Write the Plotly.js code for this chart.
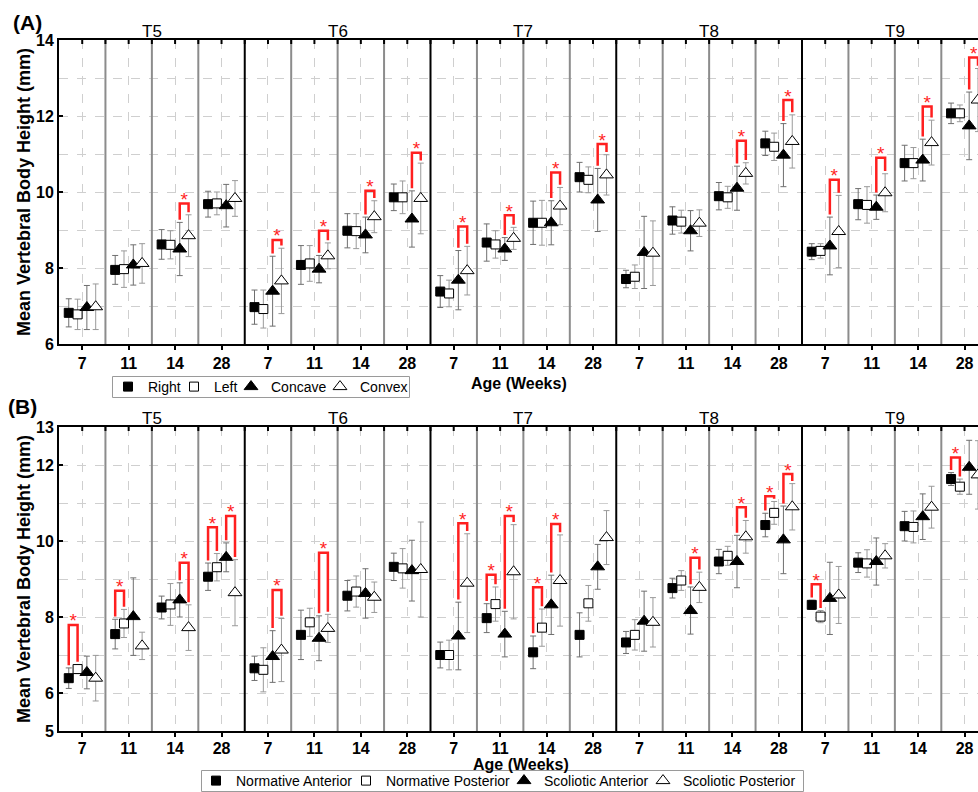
<!DOCTYPE html>
<html><head><meta charset="utf-8">
<script src="https://cdn.plot.ly/plotly-3.0.1.min.js"></script>
<style>html,body{margin:0;padding:0;background:#fff;overflow:hidden}</style>
</head><body><div id="chart" style="width:978px;height:792px"></div>
<script>
const groups = ['T5','T6','T7','T8','T9'];
const ages = ['7','11','14','28'];

// Panel A: values (mm) and SD, ordered T5(7,11,14,28), T6(...), ... T9(...)
const aRight    = [6.82,7.95,8.62,9.68, 6.97,8.08,8.98,9.86, 7.38,8.67,9.19,10.39, 7.71,9.25,9.89,11.28, 8.43,9.68,10.76,12.07];
const aRightErr = [0.37,0.38,0.39,0.34, 0.45,0.51,0.45,0.35, 0.42,0.49,0.57,0.39, 0.23,0.36,0.36,0.32, 0.21,0.41,0.47,0.27];
const aLeft     = [6.78,7.97,8.61,9.70, 6.92,8.12,8.97,9.86, 7.33,8.62,9.19,10.32, 7.77,9.22,9.86,11.19, 8.45,9.66,10.76,12.07];
const aLeftErr  = [0.40,0.48,0.37,0.30, 0.50,0.47,0.46,0.43, 0.35,0.36,0.59,0.34, 0.31,0.30,0.29,0.36, 0.19,0.48,0.41,0.22];
const aConcave    = [6.96,8.08,8.50,9.64, 7.39,7.97,8.87,9.29, 7.68,8.50,9.19,9.79, 8.41,8.98,10.10,10.97, 8.58,9.60,10.84,11.74];
const aConcaveErr = [0.58,0.53,0.70,0.56, 0.92,0.36,0.47,0.74, 0.78,0.30,0.58,0.83, 0.95,0.53,0.58,0.83, 0.76,0.32,0.55,0.89];
const aConvex     = [6.98,8.12,8.85,9.83, 7.66,8.32,9.35,9.83, 7.93,8.78,9.63,10.45, 8.39,9.18,10.49,11.33, 8.96,9.98,11.30,12.42];
const aConvexErr  = [0.60,0.52,0.55,0.47, 0.86,0.34,0.42,0.93, 0.64,0.29,0.49,0.53, 0.85,0.35,0.28,0.70, 0.95,0.50,0.59,0.83];
// Panel A significance brackets (Concave vs Convex): cell index, bracket top
const aSigCell = [2, 4, 5, 6, 7, 8, 9, 10, 11, 14, 15, 16, 17, 18, 19];
const aSigTop  = [9.70, 8.74, 8.98, 10.03, 11.03, 9.09, 9.39, 10.51, 11.26, 11.35, 12.42, 10.32, 10.90, 12.25, 13.54];

// Panel B
const bNA     = [6.39,7.55,8.25,9.06, 6.65,7.53,8.56,9.32, 7.00,7.97,7.07,7.53, 7.33,8.76,9.46,10.42, 8.32,9.43,10.39,11.63];
const bNAErr  = [0.27,0.39,0.30,0.36, 0.32,0.65,0.40,0.36, 0.34,0.38,0.43,0.58, 0.29,0.26,0.32,0.31, 0.12,0.26,0.39,0.17];
const bNP     = [6.63,7.83,8.33,9.31, 6.61,7.86,8.67,9.28, 7.00,8.34,7.72,8.36, 7.53,8.96,9.61,10.74, 8.01,9.41,10.37,11.43];
const bNPErr  = [0.12,0.37,0.55,0.36, 0.58,0.37,0.41,0.52, 0.39,0.45,0.49,0.47, 0.40,0.26,0.25,0.30, 0.16,0.36,0.42,0.20];
const bSA     = [6.54,8.01,8.45,9.57, 6.96,7.44,8.62,9.22, 7.50,7.55,8.32,9.32, 7.89,8.17,9.46,10.03, 8.49,9.46,10.64,11.94];
const bSAErr  = [0.43,1.02,0.45,0.38, 0.68,0.59,0.65,0.80, 0.89,0.60,0.78,0.59, 0.79,0.62,0.69,0.89, 0.95,0.62,0.60,0.71];
const bSP     = [6.39,7.24,7.72,8.64, 7.13,7.70,8.52,9.25, 8.89,9.19,8.96,10.09, 7.86,8.78,10.11,10.90, 8.58,9.61,10.89,11.74];
const bSPErr  = [0.60,0.36,0.60,0.87, 0.83,0.37,0.40,1.25, 1.30,1.24,1.20,0.71, 0.65,0.40,0.43,0.61, 0.75,0.32,0.55,0.90];
// Panel B brackets: cell index, pair (0 = Normative Ant/Post, 1 = Scoliotic Ant/Post), bracket top
const bSigCell = [0, 1, 2, 3, 3, 4, 5, 8, 9, 9, 10, 10, 13, 14, 15, 15, 16, 19];
const bSigPair = [0, 0, 1, 0, 1, 1, 1, 1, 0, 1, 0, 1, 1, 1, 0, 1, 0, 0];
const bSigTop  = [7.79, 8.69, 9.43, 10.36, 10.66, 8.71, 9.69, 10.47, 9.11, 10.66, 8.78, 10.45, 9.56, 10.89, 11.18, 11.76, 8.86, 12.20];

const FONT = 'Liberation Sans, Arial, Helvetica, sans-serif';
const offsets = [-0.29, -0.1, 0.1, 0.29];
const nCells = groups.length * ages.length;
const xRange = [0, 19.79];
const yRangeA = [6, 14], yRangeB = [5, 13];
const cellIdx = Array.from({length: nCells}, (_, i) => i);
const xs = s => cellIdx.map(i => i + 0.5 + offsets[s]);

const styles = [
  {symbol: 'square', size: 9, color: '#000', line: {color: '#000', width: 1}, err: '#6f6f6f'},
  {symbol: 'square', size: 9, color: '#fff', line: {color: '#000', width: 1}, err: '#9a9a9a'},
  {symbol: 'triangle-up', size: 12, color: '#000', line: {color: '#000', width: 1}, err: '#6f6f6f'},
  {symbol: 'triangle-up', size: 12, color: '#fff', line: {color: '#000', width: 1}, err: '#9a9a9a'}
];
// legend entry widths (px) to match the compact legend spacing of the original
const legendWidthsA = [21, 12, 44, 45];
const legendWidthsB = [105, 113, 94, 121];

function seriesTrace(name, vals, errs, s, xa, ya, legend, lw) {
  const st = styles[s];
  return {
    type: 'scatter', mode: 'markers', name: name, x: xs(s), y: vals,
    xaxis: xa, yaxis: ya, legend: legend, legendwidth: lw, cliponaxis: true,
    marker: {symbol: st.symbol, size: st.size, color: st.color, line: st.line},
    error_y: {type: 'data', array: errs, visible: true, color: st.err, thickness: 1, width: 3}
  };
}

function bracketTraces(cells, pairs, tops, seriesVals, seriesErrs, xa, ya) {
  const lx = [], ly = [], sx = [], sy = [];
  cells.forEach((c, k) => {
    const p = pairs[k];
    const sL = p * 2, sR = p * 2 + 1;
    const xL = c + 0.5 + offsets[sL], xR = c + 0.5 + offsets[sR];
    const legL = seriesVals[sL][c] + seriesErrs[sL][c] + 0.07;
    const legR = seriesVals[sR][c] + seriesErrs[sR][c] + 0.07;
    lx.push(xL, xL, xR, xR, null);
    ly.push(legL, tops[k], tops[k], legR, null);
    sx.push((xL + xR) / 2);
    sy.push(tops[k] + 0.06);
  });
  return [
    {type: 'scatter', mode: 'lines', x: lx, y: ly, xaxis: xa, yaxis: ya, showlegend: false,
     hoverinfo: 'skip', line: {color: '#ff1f1f', width: 2.5}, connectgaps: false},
    {type: 'scatter', mode: 'text', x: sx, y: sy, text: sx.map(() => '*'), xaxis: xa, yaxis: ya,
     showlegend: false, hoverinfo: 'skip', textposition: 'middle center', cliponaxis: false,
     textfont: {family: FONT, size: 19, color: '#ff1f1f'}}
  ];
}

const data = [
  seriesTrace('Right', aRight, aRightErr, 0, 'x', 'y', 'legend', legendWidthsA[0]),
  seriesTrace('Left', aLeft, aLeftErr, 1, 'x', 'y', 'legend', legendWidthsA[1]),
  seriesTrace('Concave', aConcave, aConcaveErr, 2, 'x', 'y', 'legend', legendWidthsA[2]),
  seriesTrace('Convex', aConvex, aConvexErr, 3, 'x', 'y', 'legend', legendWidthsA[3]),
  seriesTrace('Normative Anterior', bNA, bNAErr, 0, 'x2', 'y2', 'legend2', legendWidthsB[0]),
  seriesTrace('Normative Posterior', bNP, bNPErr, 1, 'x2', 'y2', 'legend2', legendWidthsB[1]),
  seriesTrace('Scoliotic Anterior', bSA, bSAErr, 2, 'x2', 'y2', 'legend2', legendWidthsB[2]),
  seriesTrace('Scoliotic Posterior', bSP, bSPErr, 3, 'x2', 'y2', 'legend2', legendWidthsB[3]),
  ...bracketTraces(aSigCell, aSigCell.map(() => 1), aSigTop,
      [aRight, aLeft, aConcave, aConvex], [aRightErr, aLeftErr, aConcaveErr, aConvexErr], 'x', 'y'),
  ...bracketTraces(bSigCell, bSigPair, bSigTop,
      [bNA, bNP, bSA, bSP], [bNAErr, bNPErr, bSAErr, bSPErr], 'x2', 'y2')
];

const centers = cellIdx.map(i => i + 0.5);
const ageText = cellIdx.map(i => ages[i % ages.length]);

const domX = [59 / 978, 1];
const domA = [1 - 344 / 792, 1 - 40 / 792];
const domB = [1 - 731 / 792, 1 - 427 / 792];

function bottomAxis(anchor, standoff) {
  return {
    domain: domX, range: xRange, anchor: anchor, fixedrange: true,
    tickmode: 'array', tickvals: centers, ticktext: ageText,
    ticks: 'outside', ticklen: 4, tickwidth: 2, tickcolor: '#000', ticklabelstandoff: standoff,
    tickfont: {family: FONT, size: 16, color: '#000', weight: 'bold'},
    showline: true, mirror: true, linecolor: '#000', linewidth: 2,
    showgrid: true, gridcolor: '#cfcfcf', griddash: 'dash', gridwidth: 1,
    zeroline: false, automargin: false
  };
}
function leftAxis(dom, range, tv, anchor) {
  return {
    domain: dom, range: range, anchor: anchor, fixedrange: true,
    tickmode: 'array', tickvals: tv, ticks: 'inside', ticklen: 4, tickwidth: 2, tickcolor: '#000',
    tickfont: {family: FONT, size: 16, color: '#000', weight: 'bold'},
    showline: true, linecolor: '#000', linewidth: 2,
    showgrid: true, gridcolor: '#cfcfcf', griddash: 'dash', gridwidth: 1,
    minor: {dtick: 1, showgrid: true, gridcolor: '#cfcfcf', griddash: 'dash', gridwidth: 1, ticks: ''},
    zeroline: false, automargin: false
  };
}

const shapes = [];
[['x', 'y', yRangeA, domA], ['x2', 'y2', yRangeB, domB]].forEach(([xa, ya, yr, dom]) => {
  const pxPerUnit = (dom[1] - dom[0]) * 792 / (yr[1] - yr[0]);
  for (let c = 1; c < nCells; c++) {
    const isGroup = c % ages.length === 0;
    shapes.push({type: 'line', xref: xa, yref: ya, x0: c, x1: c, y0: yr[0], y1: yr[1],
      layer: 'between', line: {color: isGroup ? '#000' : '#8c8c8c', width: 2}});
  }
  // small inward tick marks along the top frame, at every cell centre and boundary
  for (let h = 1; h < 2 * nCells; h++) {
    shapes.push({type: 'line', xref: xa, yref: ya, x0: h / 2, x1: h / 2, y0: yr[1], y1: yr[1] - 4 / pxPerUnit,
      layer: 'above', line: {color: '#000', width: 2}});
  }
});
// legend frames
const legendBoxes = [[112.5, 376.5, 409.5, 397.5], [201.5, 770.5, 803.5, 791.5]];
legendBoxes.forEach(([l, t, r, b]) => {
  shapes.push({type: 'rect', xref: 'paper', yref: 'paper', x0: l / 978, x1: r / 978,
    y0: 1 - b / 792, y1: 1 - t / 792, layer: 'above', fillcolor: 'rgba(0,0,0,0)',
    line: {color: '#9a9a9a', width: 1}});
});

const annotations = [];
groups.forEach((g, k) => {
  const cx = k * ages.length + ages.length / 2;
  [['x', yRangeA], ['x2', yRangeB]].forEach(([xa, yr], p) => {
    annotations.push({text: g, x: cx, xref: xa, y: yr[1], yref: p === 0 ? 'y' : 'y2',
      xanchor: 'center', yanchor: 'bottom', yshift: -3, showarrow: false,
      font: {family: FONT, size: 17, color: '#000'}});
  });
});
const bold = (t, x, y, size, extra) => Object.assign({text: t, x: x, y: y, xref: 'paper', yref: 'paper',
  xanchor: 'center', yanchor: 'middle', showarrow: false,
  font: {family: FONT, size: size, color: '#000', weight: 'bold'}}, extra || {});
annotations.push(bold('(A)', 27 / 978, 1 - 22 / 792, 21));
annotations.push(bold('(B)', 22 / 978, 1 - 407 / 792, 21));
annotations.push(bold('Mean Vertebral Body Height (mm)', 24 / 978, (domA[0] + domA[1]) / 2, 18, {textangle: -90}));
annotations.push(bold('Mean Vertebral Body Height (mm)', 24 / 978, (domB[0] + domB[1]) / 2, 18, {textangle: -90}));
annotations.push(bold('Age (Weeks)', 519 / 978, 1 - 383 / 792, 16));
annotations.push(bold('Age (Weeks)', 521 / 978, 1 - 764 / 792, 16));

const legendStyle = {orientation: 'h', xanchor: 'left', yanchor: 'middle', bgcolor: 'rgba(0,0,0,0)',
  borderwidth: 0, font: {family: FONT, size: 14, color: '#000'},
  itemwidth: 30, itemclick: false, itemdoubleclick: false};

const layout = {
  width: 978, height: 792, margin: {l: 0, r: 0, t: 0, b: 0, autoexpand: false},
  paper_bgcolor: '#fff', plot_bgcolor: '#fff', font: {family: FONT, color: '#000'},
  xaxis: bottomAxis('y', 0), yaxis: leftAxis(domA, yRangeA, [6, 8, 10, 12, 14], 'x'),
  xaxis2: bottomAxis('y2', -2), yaxis2: leftAxis(domB, yRangeB, [5, 6, 8, 10, 12, 13], 'x2'),
  legend: Object.assign({x: 108 / 978, y: 1 - 387 / 792}, legendStyle),
  legend2: Object.assign({x: 196 / 978, y: 1 - 781 / 792}, legendStyle),
  shapes: shapes, annotations: annotations, showlegend: true, hovermode: false
};

Plotly.newPlot('chart', data, layout, {displayModeBar: false, staticPlot: true});
</script></body></html>
